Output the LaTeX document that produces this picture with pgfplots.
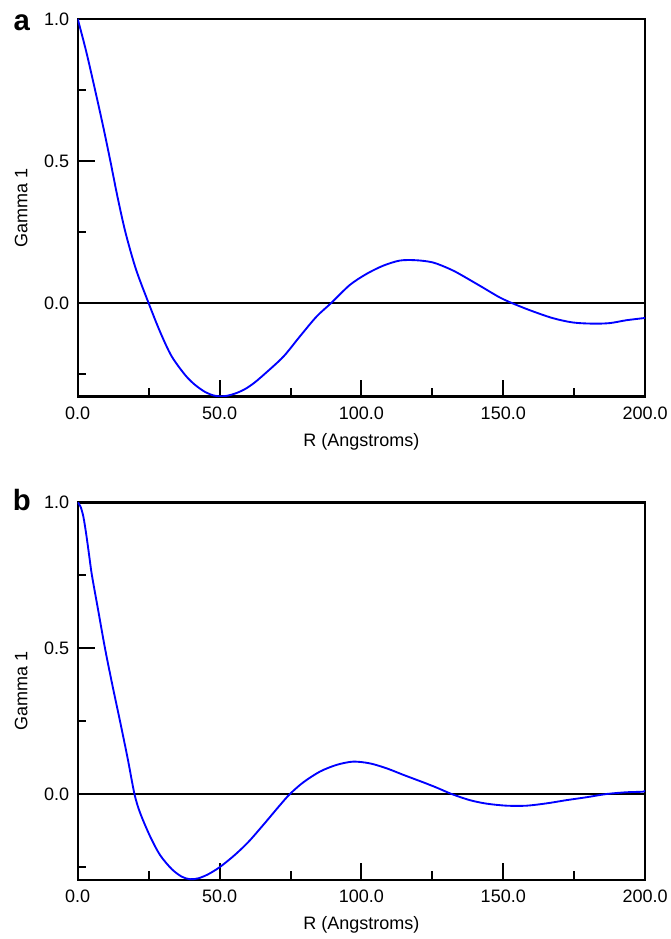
\documentclass[border=0pt]{standalone}
\usepackage{fontspec}
\setmainfont{Liberation Sans}
\usepackage{pgfplots}
\pgfplotsset{compat=1.18}

\pgfplotsset{
  gammaaxis/.style={
    scale only axis,
    width=425.5pt, height=283.3pt,
    xmin=0, xmax=200, ymax=1,
    xtick={0,50,...,200}, minor xtick={25,75,125,175},
    ytick={0,0.5,1}, minor ytick={-0.25,0.25,0.75},
    xtick pos=bottom, ytick pos=left,
    tick align=inside,
    major tick length=12.75pt, minor tick length=6.5pt,
    tick style={black, line width=1.5pt},
    axis line style={line width=1.8pt},
    tick label style={font=\fontsize{13.5}{16}\selectfont},
    /pgf/number format/assume math mode=true,
    /pgf/number format/fixed,
    /pgf/number format/fixed zerofill,
    /pgf/number format/precision=1,
    x tick label style={yshift=-4pt},
    y tick label style={xshift=-3pt},
    xlabel={R (Angstroms)}, ylabel={Gamma 1},
    every axis x label/.style={at={(rel axis cs:0.5,0)}, yshift=-33.75pt, anchor=center,
      font=\fontsize{13.5}{16}\selectfont},
    every axis y label/.style={at={(rel axis cs:0,0.5)}, xshift=-42.5pt, rotate=90, anchor=center,
      font=\fontsize{13.5}{16}\selectfont},
  },
  gammacurve/.style={color={rgb,255:red,0;green,0;blue,255}, line width=1.4pt, smooth},
  zeroline/.style={black, line width=1.5pt},
}

\begin{document}
\begin{tikzpicture}
% panel a
\begin{axis}[gammaaxis, name=pa, at={(0,0)}, anchor=south west, ymin=-0.329]
\addplot[zeroline] coordinates {(0,0) (200,0)};
\addplot[gammacurve] coordinates {
  (0,1.000) (3,0.885) (6,0.755) (9,0.620) (11.5,0.500) (14,0.375)
  (16.8,0.250) (20.5,0.120) (25,0.000) (29,-0.100) (33,-0.185)
  (37.8,-0.252) (41.3,-0.287) (45,-0.313) (48,-0.325)
  (50,-0.328) (53,-0.325) (56,-0.316) (59,-0.302) (62,-0.282) (66,-0.248)
  (72.5,-0.188) (78.3,-0.117) (84.2,-0.047) (89.5,0.002) (95.9,0.064)
  (101.8,0.103) (107.7,0.132) (113.6,0.150) (119.4,0.151) (125.3,0.143)
  (131.2,0.120) (134.7,0.102) (141.8,0.061) (148.8,0.020) (154.1,-0.004)
  (160.5,-0.029) (167.6,-0.053) (174.6,-0.068) (181.7,-0.072)
  (187.6,-0.070) (193.4,-0.060) (200,-0.052)
};
\end{axis}
% panel b
\begin{axis}[gammaaxis, name=pb, at={(0,-362.5pt)}, anchor=south west, ymin=-0.295]
\addplot[zeroline] coordinates {(0,0) (200,0)};
\addplot[gammacurve] coordinates {
  (0,1.000) (1,0.985) (2,0.950) (3,0.890) (4,0.820) (5,0.750) (7.3,0.625)
  (9.6,0.500) (12.2,0.374) (14.9,0.250) (17.6,0.122) (20.0,0.000)
  (22.0,-0.065) (25.5,-0.145) (29.0,-0.209) (33.1,-0.257) (36.6,-0.283)
  (39.5,-0.292) (42.5,-0.289) (46,-0.275) (50,-0.251) (55,-0.212)
  (60,-0.166) (65.4,-0.106) (71.3,-0.038) (74.8,0.000) (79.5,0.040)
  (85.4,0.077) (91.3,0.100) (97.1,0.111) (103.0,0.105) (108.9,0.088)
  (114.7,0.066) (121.8,0.040) (126.5,0.022) (131.8,0.000) (138.2,-0.021)
  (144.1,-0.033) (151.2,-0.040) (158.2,-0.040) (165.3,-0.032)
  (172.3,-0.021) (179.4,-0.011) (186.4,0.000) (193.4,0.006) (199.3,0.008)
  (200,0.012)
};
\end{axis}
\node[anchor=base, font=\fontsize{22}{24}\selectfont\bfseries] at ([xshift=-42pt,yshift=-8.5pt]pa.north west) {a};
\node[anchor=base, font=\fontsize{22}{24}\selectfont\bfseries] at ([xshift=-42pt,yshift=-6pt]pb.north west) {b};
\pgfresetboundingbox
\useasboundingbox (-58.3pt,-406.7pt) rectangle (444.2pt,297.5pt);
\end{tikzpicture}
\end{document}
